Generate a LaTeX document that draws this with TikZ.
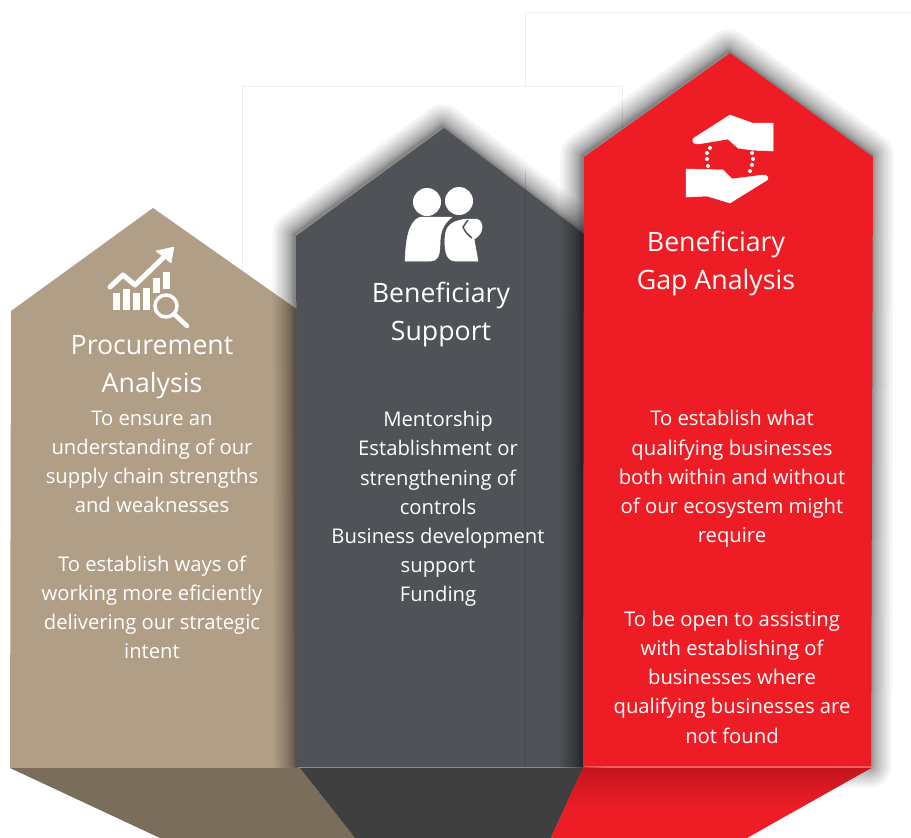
\documentclass[tikz,border=0pt]{standalone}
\usepackage{fontspec}
\setmainfont{Open Sans}
\definecolor{tanbody}{HTML}{B09E87}
\definecolor{tanfoot}{HTML}{7B6D5C}
\definecolor{greybody}{HTML}{4F5257}
\definecolor{greyfoot}{HTML}{3F3F3F}
\definecolor{redbody}{HTML}{EE1D25}
\definecolor{reddark}{HTML}{C4161D}
\definecolor{framegrey}{HTML}{EDEDED}
\newcommand{\tanhouse}{(11,311) -- (153,208) -- (298,310) -- (298,768) -- (10,768) -- cycle}
\newcommand{\greyhouse}{(296,236) -- (444,128) -- (584,234) -- (584,767) -- (298,767) -- cycle}
\newcommand{\redhouse}{(584,157) -- (730,53) -- (873,157) -- (871,767) -- (583,767) -- cycle}
\newcommand{\houseshadow}[1]{
	\foreach \w in {2,3,4,6,8,10,13,16,20,24,28,33,38,44}{
		\draw[line width=\w pt, line join=round, draw=black, opacity=0.045, shift={(-1.5,-1.5)}] #1;
	}
}
\tikzset{
	title/.style={text=white, align=center, font=\fontsize{26.7}{38}\selectfont},
	body/.style={text=white, align=center, font=\fontsize{20.25}{29.2}\selectfont},
	frameline/.style={draw=framegrey, line width=0.6pt},
	iconline/.style={draw=white, line cap=round, line join=round},
	icon/.style={fill=white, draw=white, line width=0.5pt, line join=round}
}

\begin{document}
\begin{tikzpicture}[x=1pt,y=-1pt]
	\useasboundingbox (0,0) rectangle (911,838);
	\fill[white] (0,0) rectangle (911,838);

	\draw[frameline] (242,300) -- (242,86) -- (622,86) -- (622,170);
	\draw[frameline] (525,86) -- (525,12) -- (911,12);

	\fill[tanbody] \tanhouse;
	\houseshadow{\greyhouse}
	\fill[greybody] \greyhouse;
	\draw[black, opacity=0.12, line width=0.6pt] (525,170) -- (525,808);
	\houseshadow{\redhouse}
	\fill[redbody] \redhouse;
	\draw[white, opacity=0.25, line width=1pt] (584,766) -- (871,766);

	\fill[tanfoot] (10,768) -- (300,768) -- (355,838) -- (160,838) -- cycle;
	\fill[greyfoot] (300,768) -- (583,768) -- (551,838) -- (355,838) -- cycle;
	\fill[redbody] (583,768) -- (871,768) -- (747,838) -- (551,838) -- cycle;
	\shade[top color=reddark, bottom color=redbody] (583,768) -- (871,768) -- (798,809) -- (564,809) -- cycle;

	% chart icon
	\draw[iconline, line width=5pt] (110,287) -- (123,275) -- (135,285) -- (163,258);
	\fill[icon] (156,251) -- (174,247) -- (171,263) -- cycle;
	\foreach \x/\y/\yb in {113/293/310, 123/289/310, 133/293/310, 143/288/310, 153/278/293, 163/272/289}{
		\fill[white] (\x,\y) rectangle (\x+7,\yb);
	}
	\draw[white, line width=3.5pt, fill=tanbody] (166,306) circle (11);
	\draw[iconline, line width=4.5pt] (174,314) -- (187,326);

	% people icon
	\fill[white] (427,202) circle (14);
	\fill[white] (459,201) circle (14);
	\fill[icon] (405,261) .. controls (406,240) and (408,222) .. (420,217) -- (452,217)
		.. controls (443,224) and (440,232) .. (440,245) .. controls (440,256) and (437,261) .. (431,261) -- cycle;
	\fill[icon] (445,238) .. controls (445,226) and (452,220) .. (468,219) -- (477,219)
		.. controls (484,222) and (484,232) .. (476,238) -- (474,239) -- (478,261) -- (455,261)
		.. controls (448,261) and (444,254) .. (445,238) -- cycle;
	\draw[greybody, line width=1.5pt] (468,220) -- (463,227) .. controls (465,232) and (469,236) .. (472,238);

	% hands icon
	\fill[icon] (694,138) -- (730,115) -- (752,123) -- (773,123) -- (773,151) -- (752,150) -- (738,148) -- (728,139) -- (698,144)
		.. controls (692,144) and (692,140) .. (694,138) -- cycle;
	\fill[icon] (686,169) -- (723,170) -- (732,179) -- (763,175) .. controls (768,175) and (769,178) .. (767,180)
		-- (730,203) -- (707,196) -- (686,197) -- cycle;
	\foreach \x/\y in {710/148,707/153,707/159,708/166,752/153,753/159,752/165,750/171}{
		\fill[white] (\x,\y) circle (2);
	}

	\node[title] (procurement) at (152,367) {Procurement\\Analysis};
	\node[body] (tanaims) at (152,535) {To ensure an\\understanding of our\\supply chain strengths\\and weaknesses\\[29.2pt]To establish ways of\\working more eficiently\\delivering our strategic\\intent};
	\node[title] (support) at (441,314) {Beneficiary\\Support};
	\node[body] (greyaims) at (438,509) {Mentorship\\Establishment or\\strengthening of\\controls\\Business development\\support\\Funding};
	\node[title] (gap) at (716,263) {Beneficiary\\Gap Analysis};
	\node[body] (redneeds) at (732,479) {To establish what\\qualifying businesses\\both within and without\\of our ecosystem might\\require};
	\node[body] (redopen) at (732,677) {To be open to assisting\\with establishing of\\businesses where\\qualifying businesses are\\not found};
\end{tikzpicture}
\end{document}
